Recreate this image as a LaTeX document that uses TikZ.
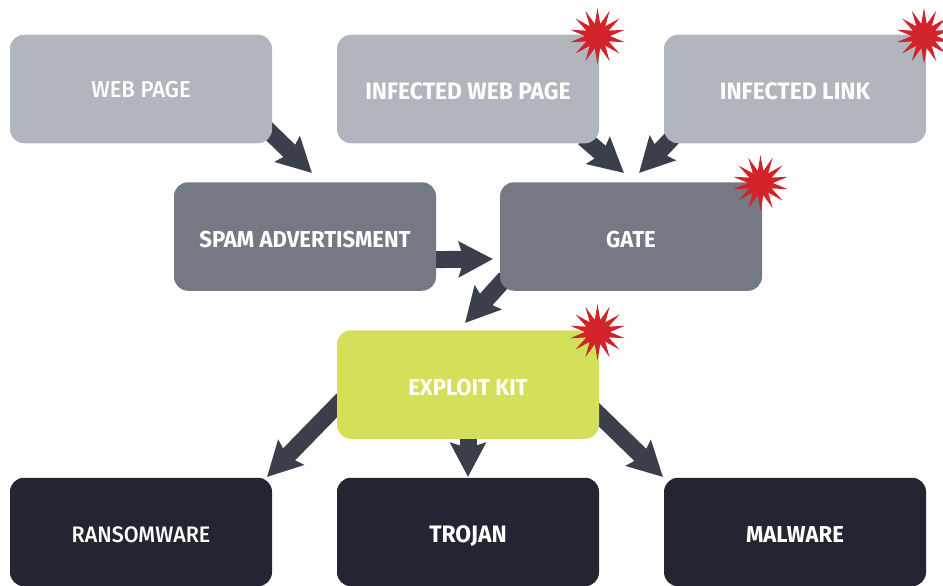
\documentclass[tikz,border=0pt]{standalone}
\usepackage{fontspec}
\setmainfont[FakeStretch=0.96]{Fira Sans}
\newfontfamily\firamedium[FakeStretch=0.96]{Fira Sans Medium}
\usetikzlibrary{arrows.meta,shapes.geometric,backgrounds}
\definecolor{boxlight}{HTML}{B1B5BE}
\definecolor{boxmid}{HTML}{747984}
\definecolor{boxlime}{HTML}{D4E05A}
\definecolor{boxdark}{HTML}{232632}
\definecolor{arrowgray}{HTML}{3B3F4B}
\definecolor{burstred}{HTML}{D2232A}
\begin{document}
\begin{tikzpicture}[x=1pt,y=-1pt,line join=miter,
  stepbox/.style={rectangle,rounded corners=14pt,minimum width=262pt,minimum height=108.5pt,inner sep=0pt,outer sep=0pt,text=white,text height=21pt,text depth=0pt,font=\fontsize{23}{27}\firamedium},
  heavy/.style={font=\fontsize{23}{27}\selectfont\bfseries},
  wide/.style={font=\fontsize{23.8}{27}\selectfont\bfseries},
  flow/.style={line width=17pt,color=arrowgray,shorten <=-8pt,-{Stealth[length=34pt,width=35pt,inset=5pt]}},
  burst/.style={star,star points=14,star point ratio=2.25,minimum size=56pt,inner sep=0pt,outer sep=0pt,fill=burstred}]
\useasboundingbox (0,0) rectangle (943,586);
% boxes
\node [stepbox,fill=boxlight,text height=16pt] (webpage) at (141,89) {WEB PAGE};
\node [stepbox,wide,fill=boxlight] (infectedpage) at (468,89) {INFECTED WEB PAGE};
\node [stepbox,wide,fill=boxlight] (infectedlink) at (795,89) {INFECTED LINK};
\node [stepbox,heavy,fill=boxmid] (spam) at (305,236.5) {SPAM ADVERTISMENT};
\node [stepbox,heavy,fill=boxmid] (gate) at (631,236.5) {GATE};
\node [stepbox,heavy,fill=boxlime] (exploit) at (468,384.5) {EXPLOIT KIT};
\node [stepbox,fill=boxdark,font=\fontsize{22.4}{27}\firamedium] (ransom) at (141,532) {RANSOMWARE};
\node [stepbox,wide,fill=boxdark] (trojan) at (468,532) {TROJAN};
\node [stepbox,heavy,fill=boxdark] (malware) at (795,532) {MALWARE};
% arrow tips
\coordinate (tipweb) at (312,173);
\coordinate (tippage) at (624,173);
\coordinate (tiplink) at (639,173);
\coordinate (tipspam) at (493,259);
\coordinate (tipgate) at (465,323);
\coordinate (tipransom) at (267,477);
\coordinate (tiptrojan) at (468,477);
\coordinate (tipmalware) at (663,477);
\begin{scope}[on background layer]
\draw [flow] (webpage.341.4) -- (tipweb);
\draw [flow] (infectedpage.336.8) -- (tippage);
\draw [flow] (infectedlink.203.2) -- (tiplink);
\draw [flow] (spam.350.2) -- (tipspam);
\draw [flow] (gate.200.7) -- (tipgate);
\draw [flow] (exploit.189.5) -- (tipransom);
\draw [flow] (exploit.south) -- (tiptrojan);
\draw [flow] (exploit.347.3) -- (tipmalware);
\end{scope}
% bursts
\node [burst] (burstpage) at (597.5,36) {};
\node [burst] (burstlink) at (924,36) {};
\node [burst] (burstgate) at (760.5,183) {};
\node [burst] (burstexploit) at (597.5,332) {};
\end{tikzpicture}
\end{document}
